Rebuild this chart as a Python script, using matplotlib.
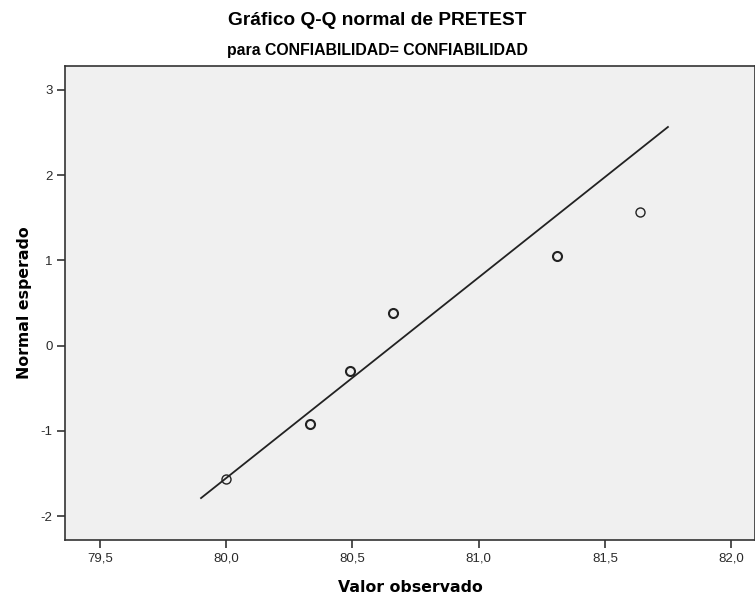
import numpy as np
import matplotlib
matplotlib.use("Agg")
import matplotlib.pyplot as plt
from matplotlib.ticker import FuncFormatter

# observed PRETEST values and their expected normal scores
observed = [80.00, 80.33, 80.49, 80.66, 81.31, 81.64]
expected = [-1.56, -0.92, -0.30, 0.38, 1.05, 1.57]
# how many cases share each point (tied values overlap)
cases = [1, 2, 2, 2, 2, 1]

# reference line: z = (x - mean) / sd
line_mean = 80.66
line_sd = 0.425
line_x = [79.90, 81.75]

x_ticks = [79.5, 80.0, 80.5, 81.0, 81.5, 82.0]
y_ticks = [-2, -1, 0, 1, 2, 3]

plt.rcParams['font.family'] = ['Liberation Sans', 'DejaVu Sans']

fig = plt.figure(figsize=(7.55, 5.99), dpi=100)
ax = fig.add_axes([0.0861, 0.0985, 0.9139, 0.7913])
ax.set_facecolor('#f0f0f0')

lx = np.array(line_x)
ax.plot(lx, (lx - line_mean) / line_sd, color='#222222', linewidth=1.3, zorder=2)

for xo, yo, n in zip(observed, expected, cases):
    ax.plot(xo, yo, 'o', markersize=6.5, markerfacecolor='none',
            markeredgecolor='#222222', markeredgewidth=1.0 + 0.5 * (n - 1), zorder=3)

ax.set_xlim(79.361, 82.095)
ax.set_ylim(-2.28, 3.28)
ax.set_xticks(x_ticks)
ax.set_yticks(y_ticks)
ax.xaxis.set_major_formatter(FuncFormatter(lambda v, p: f"{v:.1f}".replace('.', ',')))
ax.yaxis.set_major_formatter(FuncFormatter(lambda v, p: f"{v:.0f}"))
ax.tick_params(direction='out', length=6, width=1.2, color='#333333',
               labelsize=9.5, labelcolor='#2a2a2a', pad=3)

for s in ax.spines.values():
    s.set_color('#333333')
    s.set_linewidth(1.2)

ax.set_xlabel('Valor observado', fontsize=11.3, fontweight='bold', family=['DejaVu Sans'], labelpad=11)
ax.set_ylabel('Normal esperado', fontsize=11.3, fontweight='bold', family=['DejaVu Sans'], labelpad=6)

fig.text(0.5, 0.966, 'Gráfico Q-Q normal de PRETEST', ha='center', va='center',
         fontsize=13.8, fontweight='bold')
fig.text(0.5, 0.916, 'para CONFIABILIDAD= CONFIABILIDAD', ha='center', va='center',
         fontsize=11.4, fontweight='bold')

fig.savefig('out.png', dpi=100)
